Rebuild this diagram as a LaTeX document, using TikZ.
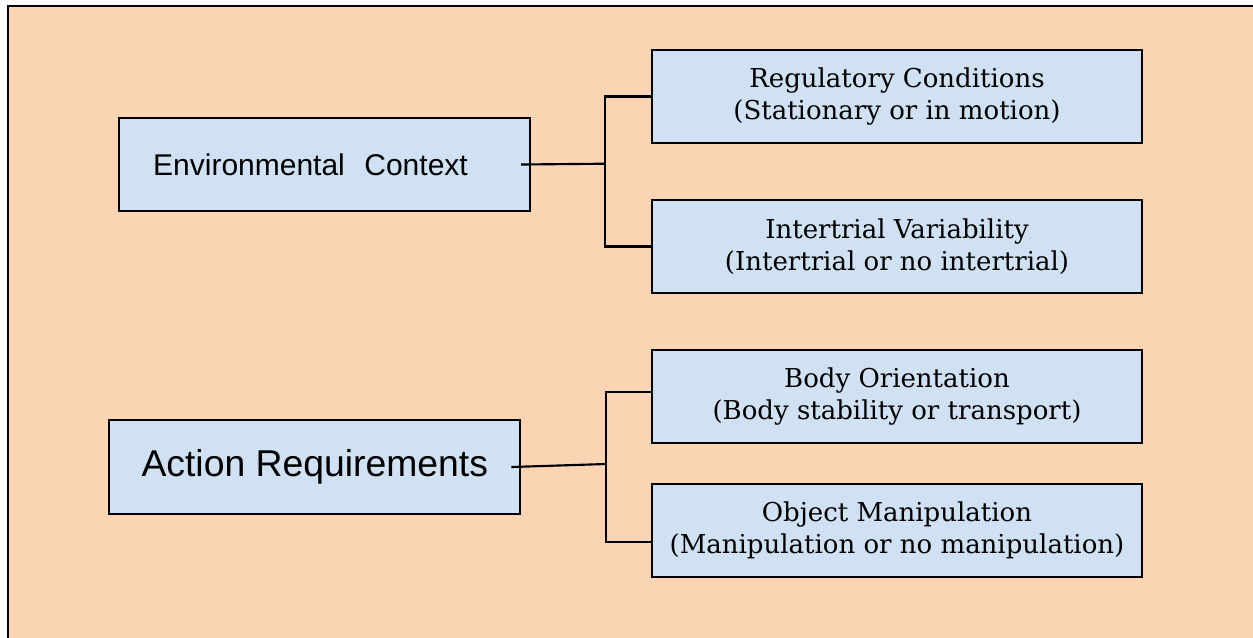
\documentclass[tikz,border=0pt]{standalone}
\usepackage{fontspec}
\setmainfont{DejaVu Serif}
\newfontfamily\arialf{Liberation Sans}
\definecolor{bgorange}{HTML}{FBD4B4}
\definecolor{boxblue}{HTML}{CFE1F2}
\begin{document}
\begin{tikzpicture}[x=0.75pt,y=-0.75pt,
  boxbase/.style={draw=black,line width=1.6pt,fill=boxblue,inner sep=0pt,anchor=center},
  leftbox/.style={boxbase,minimum width=308.25pt,minimum height=70pt},
  rightbox/.style={boxbase,minimum width=367.5pt,minimum height=69.75pt,align=center,
     font=\fontsize{19.5}{24}\selectfont},
  conn/.style={draw=black,line width=1.6pt}]
\useasboundingbox (0,0) rectangle (1253,637);
\clip (0,0) rectangle (1253,637);
\draw[fill=bgorange,line width=1.6pt] (8,6) rectangle (1270,660);

\node[leftbox,font=\arialf\fontsize{22.5}{27}\selectfont] (env) at (324.5,164.5)
  {\hspace*{-21pt}Environmental\hspace{0.65em}Context};
\node[leftbox,font=\arialf\fontsize{28}{33}\selectfont] (act) at (314.8,467)
  {Action Requirements};

\node[rightbox] (rc) at (897,96.5) {Regulatory Conditions\\(Stationary or in motion)};
\node[rightbox] (iv) at (897,246.5) {Intertrial Variability\\(Intertrial or no intertrial)};
\node[rightbox] (bo) at (897,396.5) {Body Orientation\\(Body stability or transport)};
\node[rightbox] (om) at (897,530.5) {Object Manipulation\\(Manipulation or no manipulation)};

\coordinate (j1) at (605,163.7);
\coordinate (j2) at (606,464);

\draw[conn] ([xshift=-7.5pt]env.east) -- (j1);
\draw[conn] (rc.west) -| (j1) |- (iv.west);
\draw[conn] ([xshift=-7.5pt]act.east) -- (j2);
\draw[conn] ([yshift=3.4pt]bo.west) -| (j2) |- ([yshift=-8.4pt]om.west);
\end{tikzpicture}
\end{document}
